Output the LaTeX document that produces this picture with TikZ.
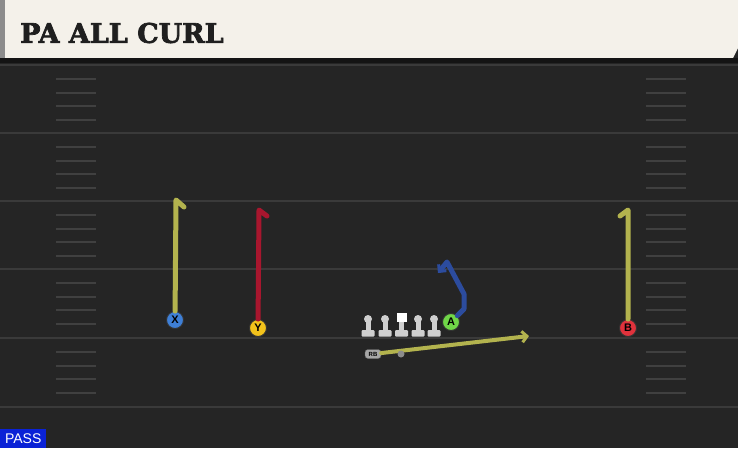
\documentclass[tikz,border=0pt]{standalone}
\usepackage{fontspec}
\setmainfont{Liberation Sans}
\newfontfamily\titlefont[BoldFeatures={FakeBold=2.5}]{DejaVu Serif}
\usepackage{tikz}
\usetikzlibrary{positioning,arrows.meta}
\usepackage{xcolor}
\definecolor{fieldbg}{HTML}{252525}
\definecolor{yardgray}{HTML}{3A3A3A}
\definecolor{hashgray}{HTML}{404040}
\definecolor{headcream}{HTML}{F4F1EA}
\definecolor{routeolive}{HTML}{B3B34E}
\definecolor{routered}{HTML}{A8162E}
\definecolor{routeblue}{HTML}{2C4C9E}
\definecolor{xblue}{HTML}{3E7FD6}
\definecolor{yyellow}{HTML}{F2C21B}
\definecolor{agreen}{HTML}{70D648}
\definecolor{bred}{HTML}{E0323C}
\definecolor{passblue}{HTML}{0A22D6}
\definecolor{linegray}{HTML}{CFCFCF}

\begin{document}
\begin{tikzpicture}[x=1pt,y=-1pt]
  	\tikzstyle{route}=[line width=5pt, line cap=round, line join=round]
  	\tikzstyle{player}=[circle, draw=black!80, line width=0.9pt, minimum size=17pt, inner sep=0pt, font=\bfseries\fontsize{11}{11}\selectfont]
  	\useasboundingbox (0,0) rectangle (738,448);
  	\fill[fieldbg] (0,0) rectangle (738,448);
  	% header
  	\fill[headcream] (5,0) -- (738,0) -- (738,48) -- (733,58) -- (5,58) -- cycle;
  	\fill[black!45] (0,0) rectangle (5,58);
  	\fill[black!92] (0,58) rectangle (738,63);
  	\node (title) [anchor=west, inner sep=0pt, font=\titlefont\bfseries\fontsize{27}{27}\selectfont, text=black!88] at (20,33) {PA ALL CURL};
  	% yard lines and hashes
  	\foreach \y in {65,133,201,269,338,407}
  	  \draw [yardgray, line width=2pt] (0,\y) -- (738,\y);
  	\foreach \z in {65,133,201,269,338}
  	  \foreach \d in {14,28,41,55} {
  	    \draw [hashgray, line width=1.6pt] (56,\z+\d) -- (96,\z+\d);
  	    \draw [hashgray, line width=1.6pt] (646,\z+\d) -- (686,\z+\d);
  	  }
  	% players
  	\node (X) [player, fill=xblue] at (175,320) {X};
  	\node (Y) [player, fill=yyellow] at (258,328) {Y};
  	\node (A) [player, fill=agreen] at (451,322) {A};
  	\node (B) [player, fill=bred] at (628,328) {B};
  	\node (RB) [rounded corners=3pt, fill=black!35, draw=black!60, font=\bfseries\fontsize{6}{6}\selectfont, minimum width=16pt, minimum height=9pt, inner sep=0pt] at (373,354) {RB};
  	\coordinate (X_top) at (176,200);
  	\coordinate (X_hook) at (184,207);
  	\coordinate (Y_top) at (259,210);
  	\coordinate (Y_hook) at (267,216);
  	\coordinate (B_top) at (628,210);
  	\coordinate (B_hook) at (620,216);
  	\coordinate (A_out) at (464,309);
  	\coordinate (A_up) at (464,294);
  	\coordinate (A_top) at (447,262);
  	\coordinate (A_end) at (438,273);
  	\coordinate (RB_end) at (529,336);
  	% routes
  	\draw [route, routeolive] (X) -- (X_top) -- (X_hook);
  	\draw [route, routered] (Y) -- (Y_top) -- (Y_hook);
  	\draw [route, routeolive] (B) -- (B_top) -- (B_hook);
  	\draw [route, routeblue, -{Straight Barb[length=5pt,width=10pt,line width=3pt]}] (A) -- (A_out) -- (A_up) -- (A_top) -- (A_end);
  	\draw [route, line width=4pt, routeolive, -{Straight Barb[length=5pt,width=11pt,line width=3pt]}] (RB) -- (RB_end);
  	\node (mesh) [circle, fill=black!45, minimum size=7pt, inner sep=0pt] at (401,354) {};
  	% line
  	\foreach \x in {368,385,418,434} {
  	  \fill[linegray] (\x,319) circle (4);
  	  \fill[linegray] (\x-2.5,319) rectangle (\x+2.5,333);
  	  \fill[linegray, rounded corners=1pt] (\x-6.5,330) rectangle (\x+6.5,336.5);
  	}
  	\fill[white] (396.5,313) rectangle (406.5,322);
  	\fill[linegray] (399,322) rectangle (404,333);
  	\fill[linegray, rounded corners=1pt] (395,330) rectangle (408,336.5);
  	% play type
  	\node (pass) [anchor=south west, fill=passblue, text=white, minimum width=46pt, minimum height=19pt, inner sep=0pt, font=\fontsize{14}{14}\selectfont] at (0,448) {PASS};
\end{tikzpicture}
\end{document}
